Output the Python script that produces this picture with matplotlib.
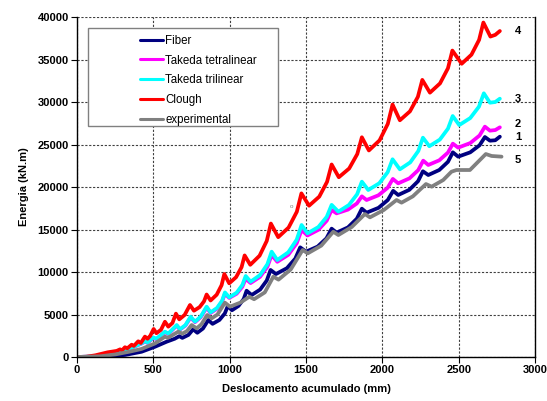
import matplotlib
matplotlib.use("Agg")
import matplotlib.pyplot as plt
from matplotlib.patches import Rectangle

plt.rcParams['font.family'] = ['Liberation Sans', 'DejaVu Sans']

# ── data ────────────────────────────────────────────────────────────
fiber_x = [0, 150, 250, 314, 423, 511, 587, 640, 670, 690, 730, 761, 788, 825, 860,
           888, 933, 968, 988, 1015, 1058, 1092, 1111, 1144, 1200, 1243, 1268, 1303,
           1375, 1430, 1462, 1500, 1576, 1634, 1668, 1700, 1775, 1833, 1866, 1897, 1975,
           2036, 2071, 2104, 2177, 2234, 2266, 2301, 2373, 2430, 2462, 2497, 2576, 2637,
           2672, 2705, 2740, 2770]
fiber_y = [0, 30, 150, 240, 620, 1210, 1800, 2150, 2450, 2250, 2600, 3260, 2850, 3350,
           4350, 3900, 4360, 5120, 6000, 5500, 6010, 6830, 7800, 7290, 7940, 9000, 10240,
           9760, 10450, 11580, 12900, 12390, 12990, 13960, 15100, 14630, 15250, 16270,
           17450, 16980, 17550, 18470, 19550, 19060, 19670, 20680, 21850, 21410, 22000,
           22960, 24080, 23570, 24080, 24910, 25880, 25450, 25500, 25920]

tetra_x = [0, 100, 200, 271, 347, 423, 445, 462, 500, 520, 576, 598, 653, 674, 710, 744,
           773, 810, 849, 875, 917, 950, 969, 997, 1046, 1083, 1105, 1137, 1199, 1247,
           1275, 1312, 1384, 1439, 1471, 1510, 1581, 1636, 1668, 1700, 1775, 1833, 1866,
           1897, 1974, 2035, 2069, 2104, 2178, 2235, 2268, 2301, 2373, 2430, 2462, 2497,
           2576, 2637, 2672, 2705, 2740, 2770]
tetra_y = [0, 60, 290, 600, 1000, 1580, 1800, 1660, 2250, 2100, 2930, 2700, 3700, 3220,
           3700, 4650, 4100, 4680, 5800, 5180, 5680, 6500, 7450, 6950, 7450, 8260, 9200,
           8700, 9430, 10610, 12000, 11200, 12020, 13370, 14940, 14300, 14960, 16040,
           17300, 16900, 17340, 18060, 18900, 18470, 19020, 19910, 20950, 20430, 21020,
           21980, 23100, 22590, 23140, 24050, 25100, 24630, 25170, 26060, 27100, 26630,
           26700, 27020]

tri_x = [0, 100, 200, 271, 347, 423, 445, 462, 500, 520, 576, 598, 653, 674, 710, 744,
         773, 810, 849, 875, 917, 950, 969, 997, 1046, 1083, 1105, 1137, 1199, 1247, 1275,
         1312, 1384, 1439, 1471, 1510, 1581, 1636, 1668, 1712, 1781, 1835, 1866, 1908,
         1980, 2035, 2067, 2115, 2183, 2236, 2266, 2308, 2377, 2430, 2461, 2504, 2576,
         2633, 2665, 2705, 2740, 2770]
tri_y = [0, 60, 300, 620, 1020, 1610, 1850, 1700, 2300, 2150, 2980, 2750, 3760, 3260,
         3750, 4740, 4160, 4750, 5920, 5250, 5770, 6610, 7600, 7020, 7570, 8480, 9530,
         8860, 9640, 10910, 12390, 11410, 12320, 13800, 15530, 14550, 15290, 16490, 17900,
         17100, 17880, 19150, 20630, 19650, 20440, 21740, 23260, 22080, 22900, 24240,
         25800, 24800, 25580, 26860, 28350, 27290, 28110, 29450, 31020, 29920, 30000, 30390]

clough_x = [0, 60, 120, 200, 260, 282, 295, 314, 330, 358, 372, 401, 418, 445, 462, 480,
            502, 520, 550, 576, 598, 625, 648, 670, 705, 740, 766, 803, 832, 849, 875, 915,
            947, 965, 997, 1042, 1078, 1098, 1135, 1196, 1243, 1270, 1318, 1386, 1440,
            1470, 1520, 1587, 1638, 1668, 1715, 1783, 1836, 1866, 1912, 1982, 2036, 2067,
            2115, 2181, 2233, 2262, 2312, 2378, 2430, 2459, 2520, 2584, 2634, 2662, 2708,
            2740, 2770]
clough_y = [0, 30, 200, 550, 720, 900, 780, 1150, 1030, 1450, 1300, 1850, 1650, 2400,
            2150, 2500, 3300, 2800, 3200, 4150, 3570, 4000, 5100, 4430, 4950, 6120, 5450,
            5870, 6550, 7350, 6650, 7330, 8450, 9760, 8670, 9390, 10570, 11950, 10850,
            11920, 13660, 15700, 14100, 15230, 17090, 19250, 17800, 18870, 20610, 22650,
            21150, 22180, 23880, 25850, 24300, 25490, 27430, 29700, 27850, 28900, 30610,
            32600, 31100, 32190, 33970, 36050, 34500, 35570, 37310, 39350, 37700, 37900,
            38350]

exp_x = [0, 150, 250, 350, 423, 511, 576, 595, 663, 690, 720, 751, 784, 815, 853, 882,
         920, 969, 1002, 1070, 1129, 1160, 1230, 1286, 1320, 1400, 1478, 1512, 1600, 1679,
         1712, 1800, 1886, 1919, 2010, 2093, 2126, 2200, 2286, 2323, 2399, 2453, 2486,
         2574, 2678, 2716, 2781]
exp_y = [0, 80, 300, 650, 950, 1600, 2390, 2250, 2980, 2750, 3050, 3760, 3370, 3850,
         4940, 4550, 5000, 6390, 5920, 6400, 7090, 6800, 7600, 9450, 9100, 10300, 12590,
         12200, 13100, 14740, 14350, 15300, 16820, 16430, 17300, 18470, 18160, 18900,
         20350, 20040, 20820, 21800, 22000, 22000, 23880, 23650, 23570]

series = [
    ("Fiber", fiber_x, fiber_y, "#000080"),
    ("Takeda tetralinear", tetra_x, tetra_y, "#FF00FF"),
    ("Takeda trilinear", tri_x, tri_y, "#00FFFF"),
    ("Clough", clough_x, clough_y, "#FF0000"),
    ("experimental", exp_x, exp_y, "#808080"),
]

end_labels = ["4", "3", "2", "1", "5"]
end_label_y = [38350, 30350, 27400, 25880, 23180]

# ── plot ────────────────────────────────────────────────────────────
fig = plt.figure(figsize=(5.47, 4.01), dpi=100)
ax = fig.add_axes([0.1408, 0.1097, 0.8372, 0.8479])

for name, xs, ys, col in series:
    ax.plot(xs, ys, color=col, linewidth=2.7, label=name,
            solid_joinstyle='round', solid_capstyle='round')

ax.set_xlim(0, 3000)
ax.set_ylim(0, 40000)
ax.set_xticks(range(0, 3001, 500))
ax.set_yticks(range(0, 40001, 5000))
ax.grid(True, color='#404040', linestyle=(0, (2, 1.5)), linewidth=0.8)
ax.set_axisbelow(True)
ax.spines['top'].set_visible(False)
for s in ['left', 'bottom', 'right']:
    ax.spines[s].set_linewidth(1.0)
ax.tick_params(direction='out', length=4, width=0.8, labelsize=8, pad=2)
for lab in ax.get_xticklabels() + ax.get_yticklabels():
    lab.set_fontweight('bold')

ax.set_xlabel("Deslocamento acumulado (mm)", fontsize=8, fontweight='bold', labelpad=6)
ax.set_ylabel("Energia (kN.m)", fontsize=8, fontweight='bold', labelpad=6)

for lab, yv in zip(end_labels, end_label_y):
    ax.text(2868, yv, lab, fontsize=8, fontweight='bold', va='center', ha='left',
            clip_on=False)

ax.text(1408, 17650, "o", fontsize=4.5, color='#808080', ha='center', va='center')

# legend box (Excel style, handles sit well to the right of the frame)
ax.add_patch(Rectangle((0.024, 0.679), 0.415, 0.289, transform=ax.transAxes,
                       facecolor='white', edgecolor='#808080', linewidth=1.0, zorder=5))
leg = ax.legend(loc='upper left', bbox_to_anchor=(0.1376, 0.948), frameon=False,
                fontsize=8.3, handlelength=2.0, handletextpad=0.2, labelspacing=0.68,
                borderpad=0, borderaxespad=0)
for line in leg.get_lines():
    line.set_linewidth(2.2)
leg.set_zorder(6)

fig.savefig("out.png", dpi=100)
